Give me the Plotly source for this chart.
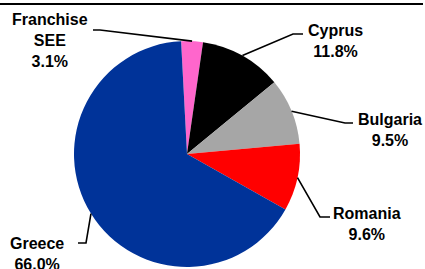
import math
import plotly.graph_objects as go

labels = ["Franchise SEE", "Cyprus", "Bulgaria", "Romania", "Greece"]
label_text = ["Franchise<br>SEE", "Cyprus", "Bulgaria", "Romania", "Greece"]
values = [3.1, 11.8, 9.5, 9.6, 66.0]
colors = ["#FF66CC", "#000000", "#A6A6A6", "#FF0000", "#003399"]

W, H = 425, 269
CX, CY, R = 187, 154, 113
ROT = -3  # degrees, start angle offset from 12 o'clock (clockwise positive)

# label layout: text centre (px), elbow point, end of horizontal tick
label_pos = [(50, 41), (335, 41), (390, 130), (367, 224), (37, 254)]
elbows = [(100, 30), (293, 34), (345, 123), (320, 217), (86, 243)]
ends = [(93, 30), (303, 34), (353, 123), (330, 217), (78, 243)]

fig = go.Figure(go.Pie(
    labels=labels, values=values, sort=False, direction="clockwise",
    rotation=ROT, marker=dict(colors=colors, line=dict(width=0)),
    textinfo="none", hoverinfo="label+percent", showlegend=False,
    domain=dict(x=[(CX - R) / W, (CX + R) / W], y=[1 - (CY + R) / H, 1 - (CY - R) / H]),
))

def px(x, y):
    return x / W, 1 - y / H

total = sum(values)
cum = 0.0
shapes = []
annotations = []
for i, v in enumerate(values):
    mid = (cum + v / 2) / total * 360 + ROT
    cum += v
    a = math.radians(mid)
    ex, ey = CX + R * math.sin(a), CY - R * math.cos(a)
    p0 = px(ex, ey); p1 = px(*elbows[i]); p2 = px(*ends[i])
    shapes.append(dict(type="path", xref="paper", yref="paper",
                       path=f"M {p0[0]},{p0[1]} L {p1[0]},{p1[1]} L {p2[0]},{p2[1]}",
                       line=dict(color="black", width=1.6)))
    lx, ly = px(*label_pos[i])
    annotations.append(dict(xref="paper", yref="paper", x=lx, y=ly,
                            xanchor="center", yanchor="middle", showarrow=False,
                            text=f"<b>{label_text[i]}<br>{v:.1f}%</b>",
                            font=dict(family="Liberation Sans, Arial", size=16, color="black")))

# top rule
shapes.append(dict(type="line", xref="paper", yref="paper", x0=0, x1=423 / W,
                   y0=1 - 4 / H, y1=1 - 4 / H, line=dict(color="black", width=2)))

fig.update_layout(width=W, height=H, margin=dict(l=0, r=0, t=0, b=0),
                  paper_bgcolor="white", plot_bgcolor="white",
                  shapes=shapes, annotations=annotations)
fig.write_html("out.html", config={"displayModeBar": False},
               post_script="document.body.style.margin='0';document.body.style.overflow='hidden';")
